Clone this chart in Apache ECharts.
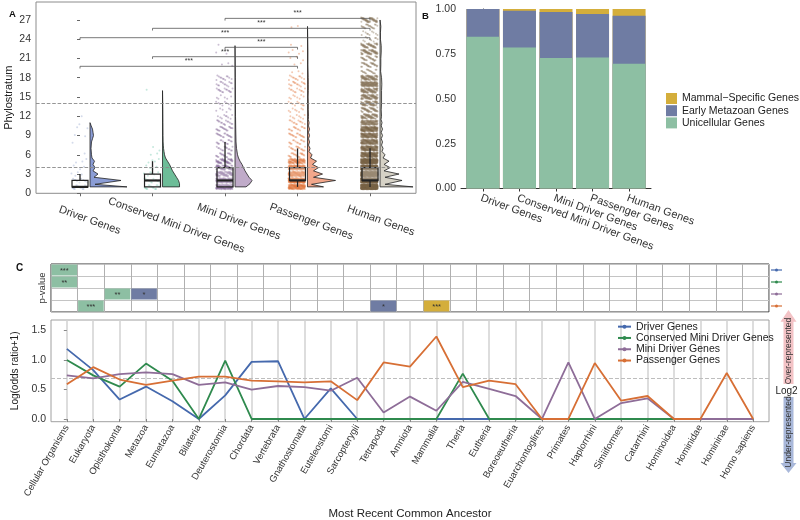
<!DOCTYPE html>
<html><head><meta charset="utf-8">
<script src="https://cdn.jsdelivr.net/npm/echarts@6/dist/echarts.min.js"></script>
<style>html,body{margin:0;padding:0;background:#fff}#c{width:800px;height:520px}</style>
</head><body><div id="c"></div>
<script>
const FONT = '"Liberation Sans", Arial, sans-serif';

// ---------- Panel A data ----------
const groupsA = ['Driver Genes','Conserved Mini Driver Genes','Mini Driver Genes','Passenger Genes','Human Genes'];
const ticksA = [0,3,6,9,12,15,18,21,24,27];
// number of jittered genes drawn at phylostratum 1..27
const ptsDriver    = [14,10,4,3,3,1,0,1,2,2,1,1,0,0,0,0,0,0,0,0,0,0,0,0,0,0,0];
const ptsConserved = [15,12,6,4,4,2,2,0,0,0,0,0,0,0,0,1,0,0,0,0,0,0,0,0,0,0,0];
const ptsMini      = [100,100,75,60,50,18,15,15,18,20,15,9,6,8,6,15,13,12,0,3,0,2,1,0,0,0,0];
const ptsPassenger = [140,200,140,110,90,22,18,15,18,15,12,8,8,9,8,12,15,12,3,2,3,4,2,0,0,2,0];
const ptsHuman     = [500,500,400,360,300,180,160,140,140,160,100,70,50,70,80,80,110,80,20,30,30,60,50,10,10,20,50];
// box stats: lower whisker, Q1, median, Q3, upper whisker
const boxA = [[1,1,1,2,3],[1,1,2,3,5],[1,1,2,4,8],[1,2,2,4,7],[1,2,2,4,7]];
// half-violin outlines: [phylostratum, density]
const violinDriver = [[1,37],[1.4,5],[2,31],[2.5,4],[3,8],[3.5,3],[4,5],[4.5,3],[5,4.5],[5.5,2],[6,1.5],[7,1],[8,1.5],[8.5,2.5],[9,3.5],[9.5,3],[10,2.5],[10.5,1.2],[11,0]];
const violinConserved = [[1,17],[1.5,17],[2,16],[2.5,14],[3,12],[3.5,10],[4,8.5],[4.5,7],[5,5],[5.5,3],[6,2],[6.5,1.5],[7,1],[7.5,0.8],[8,0.6],[9,0.5],[11,0.4],[13,0.3],[16,0]];
const violinMini = [[1,11],[1.5,15],[2,17],[2.5,14],[3,12],[3.5,10],[4,8.5],[4.5,7],[5,5],[5.5,3.5],[6,2.5],[7,1.5],[8,1],[10,0.7],[12,0.5],[15,0.4],[18,0.3],[23,0]];
const violinPassenger = [[1,16],[1.4,4],[2,28],[2.5,6],[3,15],[3.5,6],[4,11],[4.5,5],[5,9],[5.5,3],[6,4.5],[6.5,1.5],[7,2.5],[7.5,1],[8,2],[8.5,1],[9,2],[9.5,1],[10,2],[10.5,1],[11,1.5],[11.5,0.8],[12,1],[13,0.8],[14,0.8],[15,0.6],[16,0.8],[17,0.8],[18,0.7],[20,0.4],[22,0.4],[24,0.2],[26,0]];
const violinHuman = [[1,33],[1.4,5],[2,22],[2.5,5],[3,19],[3.5,4],[4,10],[4.5,4],[5,9],[5.5,3],[6,5],[6.5,2],[7,3],[7.5,1.5],[8,2.5],[8.5,1.2],[9,2.5],[9.5,1.2],[10,2.5],[10.5,1.2],[11,2],[11.5,1],[12,1.5],[13,1.2],[14,1.5],[15,1.5],[16,1.5],[17,1.8],[18,1.5],[19,0.6],[20,0.8],[21,0.8],[22,1.2],[23,1.2],[24,0.4],[25,0.4],[26,0.8],[27,0]];
// significance brackets: [group from, group to, height]
const bracketsA = [[2,4,27.25],[1,4,25.7],[0,4,24.24],[2,3,22.74],[1,3,21.28],[0,3,19.78]];
const bracketLabels = ['***','***','***','***','***','***'];
const refLinesA = [4,14];

// ---------- Panel B data ----------
const classesB = ['Mammal\u2212Specific Genes','Early Metazoan Genes','Unicellular Genes'];
const fracUnicellular = [0.845,0.785,0.727,0.730,0.695];
const fracEarlyMetazoan = [0.155,0.205,0.256,0.242,0.268];
const fracMammal = [0.000,0.010,0.017,0.028,0.037];

// ---------- Panel C data ----------
const catsC = ['Cellular Organisms','Eukaryota','Opisthokonta','Metazoa','Eumetazoa','Bilateria','Deuterostomia','Chordata','Vertebrata','Gnathostomata','Euteleostomi','Sarcopterygii','Tetrapoda','Amniota','Mammalia','Theria','Eutheria','Boreoeutheria','Euarchontoglires','Primates','Haplorrhini','Simiiformes','Catarrhini','Hominoidea','Hominidae','Homininae','Homo sapiens'];
const seriesC = ['Driver Genes','Conserved Mini Driver Genes','Mini Driver Genes','Passenger Genes'];
const lorDriver    = [1.19,0.83,0.33,0.55,0.30,0,0.40,0.97,0.98,0,0.52,0,0,0,0,0,0,0,0,0,0,0,0,0,0,0,0];
const lorConserved = [1.00,0.74,0.55,0.94,0.65,0,0.99,0,0,0,0,0,0,0,0,0.77,0,0,0,0,0,0,0,0,0,0,0];
const lorMini      = [0.74,0.69,0.76,0.79,0.76,0.58,0.62,0.50,0.56,0.54,0.48,0.70,0.11,0.38,0.14,0.63,0.51,0.39,0,0.96,0,0.27,0.35,0,0,0,0];
const lorPassenger = [0.59,0.88,0.67,0.58,0.65,0.72,0.72,0.65,0.64,0.62,0.64,0.32,0.96,0.89,1.40,0.54,0.65,0.59,0,0,0.95,0.31,0.39,0,0,0.78,0];
const lorRef = Math.log(2);
const ticksC = [0,0.5,1,1.5];
// significant cells: [ancestor index, gene set index, stars, class]
const sigCells = [[0,0,'***','uni'],[0,1,'**','uni'],[2,2,'**','uni'],[3,2,'*','early'],[1,3,'***','uni'],[12,3,'*','early'],[14,3,'***','mammal']];

// ---------- styles ----------
const ptColors = ['#8da0cb','#66c2a5','#7a5a8e','#e0743a','#7a6548'];
const violinColors = ['#8b9dd6','#6dbd98','#c0abc9','#f2a78b','#d6d2c6'];
const classColors = {uni:'#8dbfa3', early:'#6f7ca3', mammal:'#d4ae3b'};
const lineColors = ['#4569ad','#2f8a4e','#8e6d98','#d76f35'];
const violins = [violinDriver, violinConserved, violinMini, violinPassenger, violinHuman];
const ptsAll = [ptsDriver, ptsConserved, ptsMini, ptsPassenger, ptsHuman];
const idxA = groupsA.map((g,i)=>i);
const idxC = catsC.map((c,i)=>i);

function frac(x){ return x - Math.floor(x); }
function jitter(gi, counts){
  const out = [];
  counts.forEach((n, li) => {
    const lvl = li + 1;
    for (let k = 0; k < n; k++) {
      const u = frac(k*0.6180339887 + lvl*0.137);
      const v = frac(k*0.7548776662 + lvl*0.291);
      out.push([gi - 0.01 + (u-0.5)*0.23, lvl + (v-0.5)*0.75]);
    }
  });
  return out;
}

const chart = echarts.init(document.getElementById('c'));
const axText = {fontFamily:FONT, color:'#333'};

const series = [];
ptsAll.forEach((counts, gi) => {
  series.push({type:'scatter', name:'pts'+gi, xAxisIndex:0, yAxisIndex:0, silent:true, z:2,
    symbolSize:2, itemStyle:{color:ptColors[gi], opacity:0.38}, data:jitter(gi, counts)});
});
series.push({type:'custom', name:'boxA', xAxisIndex:0, yAxisIndex:0, z:4, silent:true,
  data: boxA.map((b,i)=>[i].concat(b)),
  renderItem:(p, api) => {
    const gi = p.dataIndex, b = boxA[gi];
    const x = api.coord([gi, 0])[0];
    const y = v => api.coord([gi, v])[1];
    const hw = 8;
    return {type:'group', children:[
      {type:'line', shape:{x1:x,y1:y(b[0]),x2:x,y2:y(b[1])}, style:{stroke:'#222',lineWidth:1.3}},
      {type:'line', shape:{x1:x,y1:y(b[3]),x2:x,y2:y(b[4])}, style:{stroke:'#222',lineWidth:1.3}},
      {type:'rect', shape:{x:x-hw,y:y(b[3]),width:2*hw,height:y(b[1])-y(b[3])}, style:{fill:'rgba(255,255,255,0.25)',stroke:'#222',lineWidth:1.2}},
      {type:'line', shape:{x1:x-hw,y1:y(b[2]),x2:x+hw,y2:y(b[2])}, style:{stroke:'#222',lineWidth:2.2}}
    ]};
  }});
series.push({type:'custom', name:'violinA', xAxisIndex:0, yAxisIndex:0, z:3, silent:true,
  data: idxA.map(i=>[i,0]),
  renderItem:(p, api) => {
    const gi = p.dataIndex, vs = violins[gi];
    const bx = api.coord([gi, 0])[0] + 10;
    const pts = vs.map(([yy,w]) => [bx + w, api.coord([gi, yy])[1]]);
    pts.push([bx, api.coord([gi, vs[vs.length-1][0]])[1]]);
    pts.push([bx, api.coord([gi, vs[0][0]])[1]]);
    return {type:'polygon', shape:{points:pts}, style:{fill:violinColors[gi], stroke:'#222', lineWidth:0.8}};
  },
  markLine:{symbol:'none', silent:true, label:{show:false}, lineStyle:{type:'dashed', color:'#8a8a8a', width:0.9},
    data: refLinesA.map(v=>({yAxis:v}))}
});
series.push({type:'custom', name:'bracketsA', xAxisIndex:0, yAxisIndex:0, z:5, silent:true,
  data: bracketsA,
  renderItem:(p, api) => {
    const b = bracketsA[p.dataIndex];
    const a = api.coord([b[0], b[2]]), c = api.coord([b[1], b[2]]);
    return {type:'group', children:[
      {type:'polyline', shape:{points:[[a[0],a[1]+2.2],[a[0],a[1]],[c[0],c[1]],[c[0],c[1]+2.2]]}, style:{stroke:'#555', lineWidth:0.8, fill:null}},
      {type:'text', x:(a[0]+c[0])/2, y:a[1]-1.5, style:{text:bracketLabels[p.dataIndex], fontSize:7, fontFamily:FONT, fill:'#333', align:'center', verticalAlign:'bottom'}}
    ]};
  }});

// Panel B bars: cumulative tops drawn overlapping (top class first)
const topUni = fracUnicellular.slice();
const topEarly = fracUnicellular.map((u,i)=>u + fracEarlyMetazoan[i]);
const topMammal = topEarly.map((t,i)=>t + fracMammal[i]);
[[classesB[0], topMammal, classColors.mammal],[classesB[1], topEarly, classColors.early],[classesB[2], topUni, classColors.uni]].forEach(([nm, arr, col]) => {
  series.push({type:'bar', name:nm, xAxisIndex:1, yAxisIndex:1, barWidth:33, barGap:'-100%', silent:true,
    itemStyle:{color:col}, data: arr.map((v,i)=>[i,v])});
});

// Panel C heatmap cells
series.push({type:'custom', name:'cells', xAxisIndex:2, yAxisIndex:2, silent:true, z:3,
  data: sigCells.map(c=>[c[0], c[1]]),
  renderItem:(p, api) => {
    const c = sigCells[p.dataIndex];
    const pt = api.coord([c[0], c[1]]);
    const s = api.size([1,1]);
    return {type:'group', children:[
      {type:'rect', shape:{x:pt[0]-s[0]/2+0.5, y:pt[1]-s[1]/2+0.5, width:s[0]-1, height:s[1]-1}, style:{fill:classColors[c[3]]}},
      {type:'text', x:pt[0], y:pt[1]+0.5, style:{text:c[2], fontSize:7.5, fontFamily:FONT, fill:'#333', align:'center', verticalAlign:'middle'}}
    ]};
  }});
series.push({type:'custom', name:'rowKeys', xAxisIndex:2, yAxisIndex:2, silent:true, z:3,
  data: seriesC.map((s,i)=>[catsC.length-1, i]),
  renderItem:(p, api) => {
    const pt = api.coord([catsC.length-1, p.dataIndex]);
    const s = api.size([1,1]);
    const x0 = pt[0] + s[0]/2 + 2;
    const col = lineColors[p.dataIndex];
    return {type:'group', children:[
      {type:'line', shape:{x1:x0, y1:pt[1], x2:x0+11, y2:pt[1]}, style:{stroke:col, lineWidth:1.2}},
      {type:'circle', shape:{cx:x0+5.5, cy:pt[1], r:1.5}, style:{fill:col}}
    ]};
  }});

// Panel C lines
[lorDriver, lorConserved, lorMini, lorPassenger].forEach((arr, k) => {
  const s = {type:'line', name:seriesC[k], xAxisIndex:3, yAxisIndex:3, silent:true,
    symbol:'circle', symbolSize:4, showSymbol:false, z:3,
    lineStyle:{color:lineColors[k], width:1.8}, itemStyle:{color:lineColors[k]},
    data: arr.map((v,i)=>[i,v])};
  if (k === 0) s.markLine = {symbol:'none', silent:true, label:{show:false}, z:1,
    lineStyle:{type:'dashed', color:'#bdbdbd', width:1}, data:[{yAxis:lorRef}]};
  series.push(s);
});

const gridBase = {containLabel:false, outerBoundsMode:'none'};
const option = {
  animation:false,
  textStyle:{fontFamily:FONT},
  grid:[
    Object.assign({left:36, top:2, width:380, height:191.3, show:true, borderColor:'#8c8c8c', borderWidth:1}, gridBase),
    Object.assign({left:461, top:9, width:190, height:179.5}, gridBase),
    Object.assign({left:51, top:264, width:718, height:48, show:true, borderColor:'#333', borderWidth:1}, gridBase),
    Object.assign({left:51, top:320, width:718, height:101.7, show:true, borderColor:'#a0a0a0', borderWidth:1}, gridBase)
  ],
  xAxis:[
    {gridIndex:0, type:'value', min:-0.607, max:4.634, axisLine:{show:false}, splitLine:{show:false},
      axisTick:{show:true, customValues:idxA, length:3, lineStyle:{color:'#666'}}, axisLabel:{show:false}},
    {gridIndex:1, type:'value', min:-0.6, max:4.6, axisLine:{show:true, lineStyle:{color:'#333'}}, splitLine:{show:false},
      axisTick:{show:true, customValues:idxA, length:3, lineStyle:{color:'#333'}},
      axisLabel:Object.assign({customValues:idxA, formatter:v=>groupsA[Math.round(v)], rotate:-20, align:'left', verticalAlign:'top', margin:4, fontSize:11}, axText)},
    {gridIndex:2, type:'category', data:catsC, axisLine:{show:false}, axisTick:{show:false}, axisLabel:{show:false, interval:0},
      splitLine:{show:true, interval:0, lineStyle:{color:'#b0b0b0', width:1}}},
    {gridIndex:3, type:'value', min:-0.6, max:26.6, axisLine:{show:false},
      axisTick:{show:true, customValues:idxC, length:3, lineStyle:{color:'#888'}},
      axisLabel:Object.assign({customValues:idxC, formatter:v=>catsC[Math.round(v)], rotate:60, margin:4, fontSize:9.5}, axText),
      splitLine:{show:true, lineStyle:{color:'#d2d2d2', width:1.5}},
      name:'Most Recent Common Ancestor', nameLocation:'middle', nameGap:86, nameTextStyle:{fontSize:11.5, color:'#222', fontFamily:FONT}}
  ],
  yAxis:[
    {gridIndex:0, type:'value', min:0, max:29.8, axisLine:{show:false}, splitLine:{show:false},
      axisTick:{show:true, customValues:ticksA, length:3, lineStyle:{color:'#666'}},
      axisLabel:Object.assign({customValues:ticksA, fontSize:10.5, margin:5}, axText),
      name:'Phylostratum', nameLocation:'middle', nameRotate:90, nameGap:22, nameTextStyle:{fontSize:11, color:'#222', fontFamily:FONT}},
    {gridIndex:1, type:'value', min:0, max:1, interval:0.25, axisLine:{show:true, lineStyle:{color:'#333'}},
      axisTick:{show:true, length:3, lineStyle:{color:'#333'}}, splitLine:{show:false},
      axisLabel:Object.assign({formatter:v=>v.toFixed(2), fontSize:10.5, margin:5}, axText)},
    {gridIndex:2, type:'category', data:seriesC, inverse:true, axisLine:{show:false}, axisTick:{show:false}, axisLabel:{show:false, interval:0},
      splitLine:{show:true, interval:0, lineStyle:{color:'#c4c4c4', width:1}},
      name:'p-value', nameLocation:'middle', nameRotate:90, nameGap:4, nameTextStyle:{fontSize:9.5, color:'#333', fontFamily:FONT}},
    {gridIndex:3, type:'value', min:-0.046, max:1.68, axisLine:{show:false}, splitLine:{show:false},
      axisTick:{show:true, customValues:ticksC, length:3, lineStyle:{color:'#888'}},
      axisLabel:Object.assign({customValues:ticksC, formatter:v=>v.toFixed(1), fontSize:10.5, margin:5}, axText),
      name:'Log(odds ratio+1)', nameLocation:'middle', nameRotate:90, nameGap:25, nameTextStyle:{fontSize:10, color:'#222', fontFamily:FONT}}
  ],
  legend:[
    {data:classesB, orient:'vertical', left:661, top:88, itemWidth:11, itemHeight:11, itemGap:1.2, icon:'rect',
      selectedMode:false, textStyle:{fontSize:10.5, color:'#222', fontFamily:FONT}},
    {data:seriesC, orient:'vertical', left:612, top:316, itemWidth:13, itemHeight:5, itemGap:0,
      selectedMode:false, textStyle:{fontSize:10.5, lineHeight:11.3, color:'#222', fontFamily:FONT}}
  ],
  series: series
};
chart.setOption(option);

// Panel A rotated category labels + decorations
const cv = document.createElement('canvas').getContext('2d');
cv.font = '11px "Liberation Sans"';
const rad = 20*Math.PI/180;
const gfx = [];
groupsA.forEach((g, i) => {
  const px = chart.convertToPixel({gridIndex:0}, [i, 0]);
  const w = cv.measureText(g).width;
  gfx.push({type:'text', x: px[0] - 0.31*w*Math.cos(rad), y: 210.8 - 0.31*w*Math.sin(rad), rotation:-rad,
    style:{text:g, fontSize:11, fontFamily:FONT, fill:'#333', align:'left', verticalAlign:'top'}});
});
const lab = (t,x,y,fs) => ({type:'text', x, y, style:{text:t, fontSize:fs, fontWeight:'bold', fontFamily:FONT, fill:'#111', align:'left', verticalAlign:'top'}});
gfx.push(lab('A',9,9,9.5), lab('B',422,11,9.5), lab('C',16,263,10));
gfx.push({type:'polygon', shape:{points:[[788.5,310],[796.5,321.7],[793.5,321.7],[793.5,384],[783.5,384],[783.5,321.7],[780.5,321.7]]}, style:{fill:'#f3c3c6'}});
gfx.push({type:'polygon', shape:{points:[[783.5,397],[793.5,397],[793.5,463],[796.5,463],[788.5,473],[780.5,463],[783.5,463]]}, style:{fill:'#a9b8da'}});
gfx.push({type:'text', x:789, y:351, rotation:Math.PI/2, style:{text:'Over-represented', fontSize:8.5, fontFamily:FONT, fill:'#333', align:'center', verticalAlign:'middle'}});
gfx.push({type:'text', x:789, y:432, rotation:Math.PI/2, style:{text:'Under-represented', fontSize:8.5, fontFamily:FONT, fill:'#333', align:'center', verticalAlign:'middle'}});
gfx.push({type:'text', x:786.5, y:391, style:{text:'Log2', fontSize:10, fontFamily:FONT, fill:'#222', align:'center', verticalAlign:'middle'}});
chart.setOption({graphic: gfx});
</script>
</body></html>
